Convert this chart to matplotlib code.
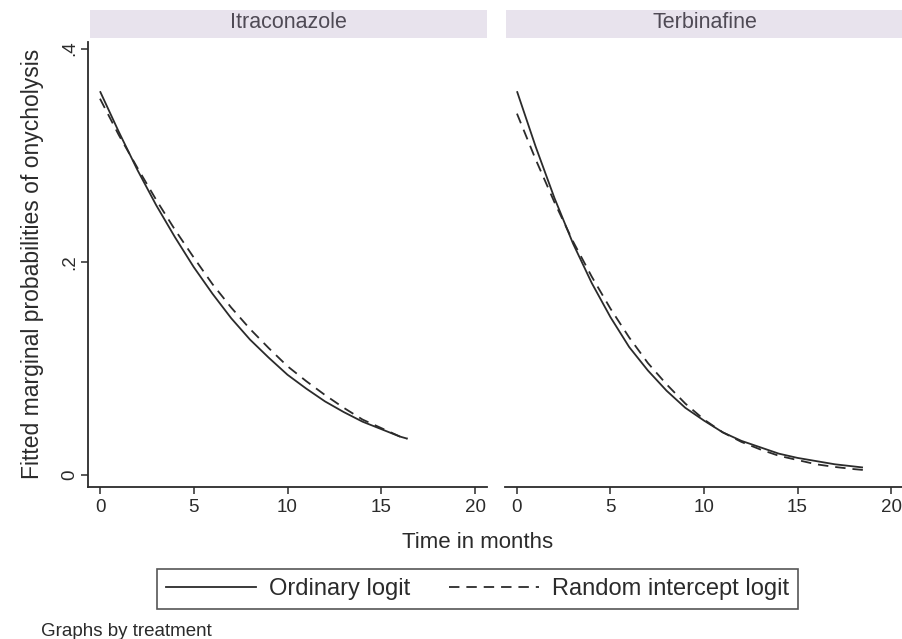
import matplotlib
matplotlib.use("Agg")
import matplotlib.pyplot as plt
from matplotlib.patches import Rectangle
from matplotlib.lines import Line2D

plt.rcParams['font.family'] = ['Liberation Sans', 'DejaVu Sans']
plt.rcParams['lines.scale_dashes'] = False

# Data
panels = ["Itraconazole", "Terbinafine"]
series_labels = ["Ordinary logit", "Random intercept logit"]

itra_months = [0, 1, 2, 3, 4, 5, 6, 7, 8, 9, 10, 11, 12, 13, 14, 15, 16, 16.4]
itra_ordinary = [0.360, 0.322, 0.286, 0.253, 0.223, 0.195, 0.170, 0.147, 0.127,
                 0.110, 0.094, 0.081, 0.069, 0.059, 0.050, 0.043, 0.036, 0.034]
itra_random = [0.353, 0.319, 0.288, 0.258, 0.230, 0.204, 0.179, 0.157, 0.137,
               0.119, 0.102, 0.088, 0.075, 0.063, 0.052, 0.044, 0.036, 0.034]

terb_months = [0, 1, 2, 3, 4, 5, 6, 7, 8, 9, 10, 11, 12, 13, 14, 15, 16, 17, 18, 18.5]
terb_ordinary = [0.360, 0.308, 0.260, 0.217, 0.180, 0.148, 0.120, 0.098, 0.079,
                 0.063, 0.051, 0.040, 0.032, 0.026, 0.020, 0.016, 0.013, 0.010,
                 0.008, 0.007]
terb_random = [0.339, 0.296, 0.256, 0.219, 0.186, 0.156, 0.129, 0.105, 0.085,
               0.067, 0.052, 0.040, 0.031, 0.024, 0.018, 0.014, 0.010, 0.0075,
               0.0055, 0.0047]

x_ticks = [0, 5, 10, 15, 20]
y_ticks = [0, 0.2, 0.4]
y_tick_labels = ["0", ".2", ".4"]

W, H = 903, 639
fig = plt.figure(figsize=(W / 100, H / 100), dpi=100)
fig.patch.set_facecolor("white")

ink = "#2b2b2b"
strip_col = "#e8e3ed"
strip_text = "#4f4a55"


def fx(px):
    return px / W


def fy(py):
    return 1 - py / H


ax_bottom, ax_top = 487, 42
ax_left = fig.add_axes([fx(88), fy(ax_bottom), fx(487 - 88), (ax_bottom - ax_top) / H])
ax_right = fig.add_axes([fx(505), fy(ax_bottom), fx(903 - 505), (ax_bottom - ax_top) / H])

data = [
    (itra_months, itra_ordinary, itra_random),
    (terb_months, terb_ordinary, terb_random),
]
strips = [(90, 487), (506, 903)]
dash = (0, (7.5, 5))

for i, (ax, (t, p_ord, p_rand)) in enumerate(zip([ax_left, ax_right], data)):
    ax.plot(t, p_ord, color=ink, lw=1.3, solid_capstyle="butt")
    ax.plot(t, p_rand, color=ink, lw=1.3, linestyle=dash)
    ax.set_xlim(-0.64, 20.64)
    ax.set_ylim(-0.0113, 0.4062)
    ax.set_xticks(x_ticks)
    ax.set_xticklabels([str(v) for v in x_ticks], fontsize=13.5, color=ink)
    ax.tick_params(axis="x", direction="out", length=5, width=1.1, color=ink, pad=4)
    for s in ["top", "right"]:
        ax.spines[s].set_visible(False)
    ax.spines["bottom"].set_color(ink)
    ax.spines["bottom"].set_linewidth(1.3)
    if i == 0:
        ax.set_yticks(y_ticks)
        ax.set_yticklabels(y_tick_labels, fontsize=13.5, color=ink,
                           rotation=90, va="center")
        ax.tick_params(axis="y", direction="out", length=5, width=1.1, color=ink, pad=2)
        ax.spines["left"].set_color(ink)
        ax.spines["left"].set_linewidth(1.3)
    else:
        ax.spines["left"].set_visible(False)
        ax.set_yticks([])
    ax.set_facecolor("none")

    # strip header
    x0, x1 = strips[i]
    fig.patches.append(Rectangle((fx(x0), fy(38)), fx(x1 - x0), 28 / H,
                                 transform=fig.transFigure, facecolor=strip_col,
                                 edgecolor="none", zorder=0))
    fig.text(fx((x0 + x1) / 2), fy(23), panels[i], ha="center", va="center",
             fontsize=15.5, color=strip_text)

fig.text(fx(33), fy(264), "Fitted marginal probabilities of onycholysis",
         rotation=90, ha="center", va="center", fontsize=16.5, color=ink)
fig.text(fx(478), fy(542), "Time in months", ha="center", va="center",
         fontsize=16, color=ink)

handles = [
    Line2D([], [], color=ink, lw=1.3),
    Line2D([], [], color=ink, lw=1.3, linestyle=dash),
]
leg = fig.legend(handles, series_labels, loc="center",
                 bbox_to_anchor=(fx(477.5), fy(589)), ncol=2, fontsize=17,
                 frameon=True, fancybox=False, handlelength=3.8,
                 handletextpad=0.55, columnspacing=1.65, borderpad=0.4,
                 borderaxespad=0)
leg.get_frame().set_edgecolor(ink)
leg.get_frame().set_linewidth(1.2)
for txt in leg.get_texts():
    txt.set_color(ink)

fig.text(fx(41), fy(632), "Graphs by treatment", ha="left", va="center",
         fontsize=13.5, color=ink)

fig.savefig("out.png", dpi=100)
